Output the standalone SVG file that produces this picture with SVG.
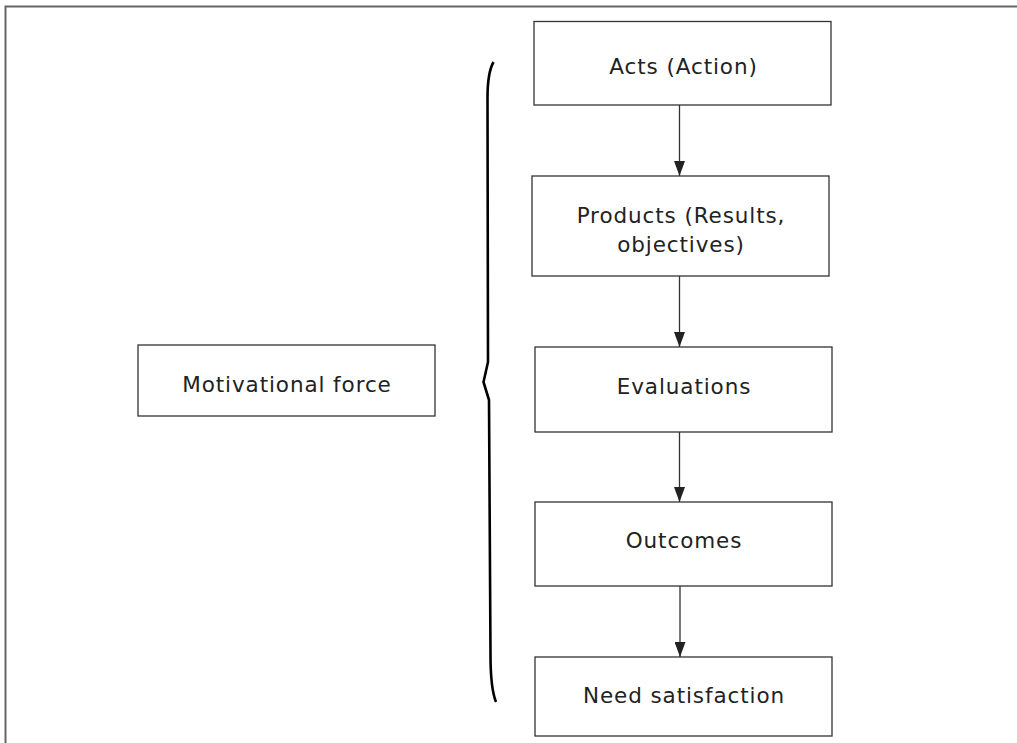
<svg xmlns="http://www.w3.org/2000/svg" width="1017" height="743" viewBox="0 0 1017 743">
<style>
.box{fill:#fff;stroke:#333;stroke-width:1.3}
.lbl{font-family:"DejaVu Sans",sans-serif;font-size:21.5px;letter-spacing:0.9px;fill:#222;text-anchor:middle}
.con{stroke:#333;stroke-width:1.3;fill:none}
</style>
<defs>
<marker id="arr" markerUnits="userSpaceOnUse" markerWidth="15" markerHeight="11" refX="15" refY="5.5" orient="auto" viewBox="0 0 15 11">
<path d="M0,0 L15,5.5 L0,11 Z" fill="#222"/>
</marker>
</defs>
<rect width="1017" height="743" fill="#fff"/>
<path d="M5.5,743 L5.5,6.5 L1017,6.5" fill="none" stroke="#666" stroke-width="2"/>
<g id="brace">
<path d="M493.5,62 C489,70 487.5,82 487.5,98 L488,362 L483.5,382 L489,400 L490.5,655 C490.5,680 492,692 496,702" fill="none" stroke="#000" stroke-width="2.6" stroke-linejoin="round"/>
</g>
<g id="connectors">
<line class="con" x1="679.5" y1="105" x2="679.5" y2="176" marker-end="url(#arr)"/>
<line class="con" x1="679.5" y1="276" x2="679.5" y2="347" marker-end="url(#arr)"/>
<line class="con" x1="679.5" y1="432" x2="679.5" y2="502" marker-end="url(#arr)"/>
<line class="con" x1="680" y1="586" x2="680" y2="657" marker-end="url(#arr)"/>
</g>
<g id="motivational">
<rect class="box" x="138" y="345" width="297" height="71"/>
<text class="lbl" x="287" y="392">Motivational force</text>
</g>
<g id="acts">
<rect class="box" x="534" y="21.5" width="297" height="83.5"/>
<text class="lbl" x="683.5" y="74">Acts (Action)</text>
</g>
<g id="products">
<rect class="box" x="532" y="176" width="297" height="100"/>
<text class="lbl" x="681" y="223">Products (Results,</text>
<text class="lbl" x="681" y="252">objectives)</text>
</g>
<g id="evaluations">
<rect class="box" x="535" y="347" width="297" height="85"/>
<text class="lbl" x="684" y="394">Evaluations</text>
</g>
<g id="outcomes">
<rect class="box" x="535" y="502" width="297" height="84"/>
<text class="lbl" x="684" y="548">Outcomes</text>
</g>
<g id="need">
<rect class="box" x="535" y="657" width="297" height="79"/>
<text class="lbl" x="684" y="703">Need satisfaction</text>
</g>
</svg>
